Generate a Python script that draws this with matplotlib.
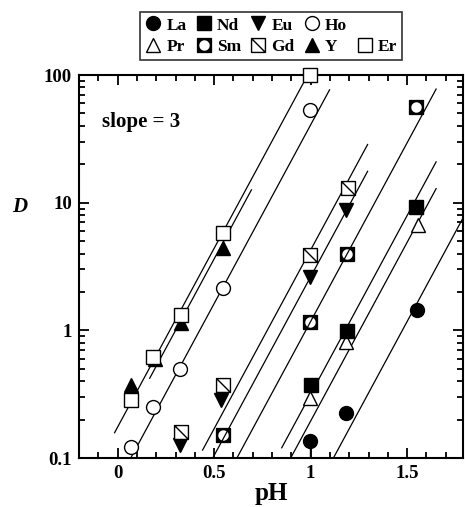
import numpy as np
import matplotlib
matplotlib.use('Agg')
import matplotlib.pyplot as plt
from matplotlib.path import Path
from matplotlib.lines import Line2D
from matplotlib.ticker import MultipleLocator, LogLocator, NullFormatter, FixedFormatter, FixedLocator

#! data (pH, D)
la_ph = [0.995, 1.185, 1.553]
la_d = [0.135, 0.224, 1.45]
pr_ph = [0.995, 1.185, 1.556]
pr_d = [0.294, 0.817, 6.68]
nd_ph = [1.0, 1.19, 1.548]
nd_d = [0.373, 0.99, 9.3]
sm_ph = [0.546, 0.995, 1.19, 1.548]
sm_d = [0.152, 1.17, 3.94, 56.5]
eu_ph = [0.321, 0.537, 0.995, 1.185]
eu_d = [0.127, 0.285, 2.64, 8.77]
gd_ph = [0.33, 0.546, 0.995, 1.193]
gd_d = [0.161, 0.373, 3.89, 12.97]
ho_ph = [0.071, 0.183, 0.321, 0.546, 0.995]
ho_d = [0.123, 0.253, 0.495, 2.14, 53.2]
y_ph = [0.071, 0.192, 0.33, 0.546]
y_d = [0.373, 0.60, 1.14, 4.40]
er_ph = [0.071, 0.183, 0.33, 0.546, 0.995]
er_d = [0.285, 0.615, 1.32, 5.75, 100]

# lower error of the first La point (goes to the axis)
la_err_low = [0.06, 0, 0]

# fitted lines: log D = slope * pH + b
slope = 2.8
line_b = {'La': -4.13, 'Pr': -3.51, 'Nd': -3.30, 'Sm': -2.73, 'Eu': -2.38,
          'Gd': -2.17, 'Ho': -1.19, 'Y': -0.84, 'Er': -0.757}
line_range = {'La': (1.1, 1.79), 'Pr': (0.9, 1.65), 'Nd': (0.85, 1.65),
              'Sm': (0.6, 1.65), 'Eu': (0.48, 1.295), 'Gd': (0.44, 1.295),
              'Ho': (0.06, 1.098), 'Y': (0.166, 0.693), 'Er': (-0.016, 0.978)}

x_ticks = [0, 0.5, 1, 1.5]
x_labels = ['0', '0.5', '1', '1.5']
y_ticks = [0.1, 1, 10, 100]
y_labels = ['0.1', '1', '10', '100']

# marcadores especiais
sq = [(-1, -1), (1, -1), (1, 1), (-1, 1), (-1, -1)]
sq_codes = [Path.MOVETO, Path.LINETO, Path.LINETO, Path.LINETO, Path.CLOSEPOLY]
t = np.linspace(0, -2 * np.pi, 41)
circ = list(zip(0.85 * np.cos(t), 0.85 * np.sin(t)))
sm_marker = Path(sq + circ, sq_codes + [Path.MOVETO] + [Path.LINETO] * 39 + [Path.CLOSEPOLY])
gd_marker = Path(sq + [(-1, 1), (1, -1)], sq_codes + [Path.MOVETO, Path.LINETO])

plt.rcParams['font.family'] = 'Liberation Serif'
plt.rcParams['font.weight'] = 'bold'

fig = plt.figure(figsize=(4.65, 5.07), dpi=100)
ax = fig.add_axes([0.170, 0.0966, 0.826, 0.7554])

series = [
    ('La', la_ph, la_d, 'o', 'black'),
    ('Pr', pr_ph, pr_d, '^', 'white'),
    ('Nd', nd_ph, nd_d, 's', 'black'),
    ('Sm', sm_ph, sm_d, sm_marker, 'black'),
    ('Eu', eu_ph, eu_d, 'v', 'black'),
    ('Gd', gd_ph, gd_d, gd_marker, 'white'),
    ('Ho', ho_ph, ho_d, 'o', 'white'),
    ('Y', y_ph, y_d, '^', 'black'),
    ('Er', er_ph, er_d, 's', 'white'),
]

# linhas de ajuste
for name, _, _, _, _ in series:
    lo, hi = line_range[name]
    xs = np.array([lo, hi])
    ax.plot(xs, 10 ** (slope * xs + line_b[name]), color='black', lw=0.9, zorder=1)

ax.errorbar(la_ph, la_d, yerr=[la_err_low, [0, 0, 0]], fmt='none', ecolor='black',
            elinewidth=1, capsize=0, zorder=2)

handles = {}
for name, xs, ys, mk, fc in series:
    h, = ax.plot(xs, ys, linestyle='none', marker=mk, markersize=10, markerfacecolor=fc,
                 markeredgecolor='black', markeredgewidth=1, clip_on=False, zorder=3, label=name)
    handles[name] = h

ax.set_yscale('log')
ax.set_xlim(-0.2, 1.79)
ax.set_ylim(0.1, 100)

ax.xaxis.set_major_locator(FixedLocator(x_ticks))
ax.xaxis.set_major_formatter(FixedFormatter(x_labels))
ax.xaxis.set_minor_locator(MultipleLocator(0.1))
ax.yaxis.set_major_locator(FixedLocator(y_ticks))
ax.yaxis.set_major_formatter(FixedFormatter(y_labels))
ax.yaxis.set_minor_locator(LogLocator(base=10, subs=np.arange(2, 10)))
ax.yaxis.set_minor_formatter(NullFormatter())

ax.tick_params(which='both', direction='in', top=True, right=True, labelsize=13.5, width=1.3)
ax.tick_params(which='major', length=7, pad=5)
ax.tick_params(which='minor', length=4)
for s in ax.spines.values():
    s.set_linewidth(1.5)

ax.set_xlabel('pH', fontsize=18, fontweight='bold', labelpad=0)
ax.set_ylabel('D', fontsize=15, fontweight='bold', style='italic', rotation=0, va='center')
ax.yaxis.set_label_coords(-0.155, 0.655)
ax.text(0.06, 0.865, 'slope = 3', transform=ax.transAxes, fontsize=15, fontweight='bold')

# legenda em cima (Er fica na segunda linha)
blank = Line2D([], [], linestyle='none')
order = ['La', 'Pr', 'Nd', 'Sm', 'Eu', 'Gd', 'Ho', 'Y']
leg_h = [handles[n] for n in order] + [blank, handles['Er']]
leg_l = order + ['', 'Er']
leg = fig.legend(leg_h, leg_l, ncol=5, loc='upper center', bbox_to_anchor=(0.583, 0.976),
                 frameon=True, fancybox=False, edgecolor='black',
                 handlelength=0.9, handletextpad=0.3, columnspacing=0.55, labelspacing=0.3,
                 borderpad=0.3, borderaxespad=0, prop={'weight': 'bold', 'size': 12.5})
leg.get_frame().set_linewidth(1.2)

fig.savefig('out.png', dpi=100)
